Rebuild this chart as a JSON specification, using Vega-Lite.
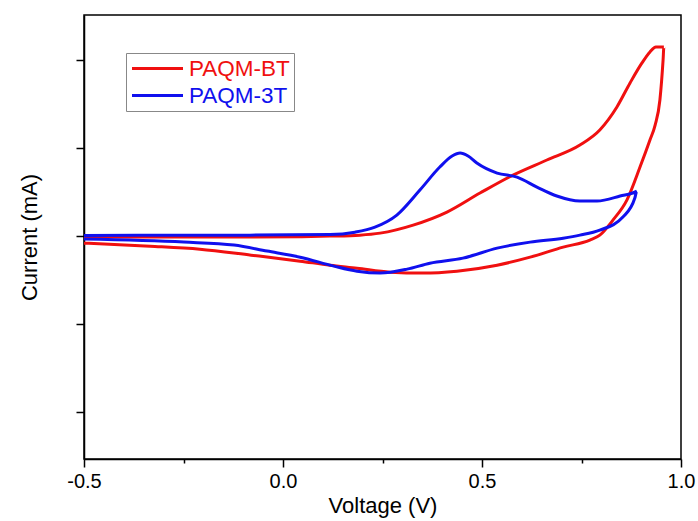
{
  "$schema": "https://vega.github.io/schema/vega-lite/v6.json",
  "width": 597,
  "height": 444,
  "autosize": {"type": "none"},
  "padding": {"left": 84, "top": 15, "right": 17, "bottom": 62},
  "background": "white",
  "config": {
    "font": "Liberation Sans",
    "view": {"stroke": "#000", "strokeWidth": 1.5}
  },
  "data": {
    "values": [
      {"s": "PAQM-BT", "i": 1, "v": -0.5, "c": -0.011},
      {"s": "PAQM-BT", "i": 2, "v": -0.334, "c": -0.011},
      {"s": "PAQM-BT", "i": 3, "v": -0.209, "c": -0.011},
      {"s": "PAQM-BT", "i": 4, "v": -0.083, "c": -0.011},
      {"s": "PAQM-BT", "i": 5, "v": 0.043, "c": -0.006},
      {"s": "PAQM-BT", "i": 6, "v": 0.118, "c": 0.0},
      {"s": "PAQM-BT", "i": 7, "v": 0.193, "c": 0.011},
      {"s": "PAQM-BT", "i": 8, "v": 0.244, "c": 0.034},
      {"s": "PAQM-BT", "i": 9, "v": 0.327, "c": 0.125},
      {"s": "PAQM-BT", "i": 10, "v": 0.412, "c": 0.273},
      {"s": "PAQM-BT", "i": 11, "v": 0.495, "c": 0.489},
      {"s": "PAQM-BT", "i": 12, "v": 0.578, "c": 0.693},
      {"s": "PAQM-BT", "i": 13, "v": 0.663, "c": 0.864},
      {"s": "PAQM-BT", "i": 14, "v": 0.746, "c": 1.034},
      {"s": "PAQM-BT", "i": 15, "v": 0.796, "c": 1.205},
      {"s": "PAQM-BT", "i": 16, "v": 0.839, "c": 1.466},
      {"s": "PAQM-BT", "i": 17, "v": 0.872, "c": 1.739},
      {"s": "PAQM-BT", "i": 18, "v": 0.902, "c": 1.966},
      {"s": "PAQM-BT", "i": 19, "v": 0.922, "c": 2.091},
      {"s": "PAQM-BT", "i": 20, "v": 0.937, "c": 2.148},
      {"s": "PAQM-BT", "i": 21, "v": 0.957, "c": 2.148},
      {"s": "PAQM-BT", "i": 22, "v": 0.955, "c": 2.0},
      {"s": "PAQM-BT", "i": 23, "v": 0.947, "c": 1.545},
      {"s": "PAQM-BT", "i": 24, "v": 0.935, "c": 1.261},
      {"s": "PAQM-BT", "i": 25, "v": 0.922, "c": 1.091},
      {"s": "PAQM-BT", "i": 26, "v": 0.897, "c": 0.784},
      {"s": "PAQM-BT", "i": 27, "v": 0.864, "c": 0.409},
      {"s": "PAQM-BT", "i": 28, "v": 0.829, "c": 0.182},
      {"s": "PAQM-BT", "i": 29, "v": 0.796, "c": 0.011},
      {"s": "PAQM-BT", "i": 30, "v": 0.771, "c": -0.045},
      {"s": "PAQM-BT", "i": 31, "v": 0.704, "c": -0.125},
      {"s": "PAQM-BT", "i": 32, "v": 0.621, "c": -0.239},
      {"s": "PAQM-BT", "i": 33, "v": 0.538, "c": -0.33},
      {"s": "PAQM-BT", "i": 34, "v": 0.437, "c": -0.398},
      {"s": "PAQM-BT", "i": 35, "v": 0.352, "c": -0.42},
      {"s": "PAQM-BT", "i": 36, "v": 0.269, "c": -0.409},
      {"s": "PAQM-BT", "i": 37, "v": 0.186, "c": -0.364},
      {"s": "PAQM-BT", "i": 38, "v": 0.118, "c": -0.33},
      {"s": "PAQM-BT", "i": 39, "v": 0.043, "c": -0.284},
      {"s": "PAQM-BT", "i": 40, "v": -0.08, "c": -0.216},
      {"s": "PAQM-BT", "i": 41, "v": -0.209, "c": -0.148},
      {"s": "PAQM-BT", "i": 42, "v": -0.334, "c": -0.114},
      {"s": "PAQM-BT", "i": 43, "v": -0.5, "c": -0.08},
      {"s": "PAQM-3T", "i": 1, "v": -0.5, "c": 0.006},
      {"s": "PAQM-3T", "i": 2, "v": -0.334, "c": 0.011},
      {"s": "PAQM-3T", "i": 3, "v": -0.083, "c": 0.011},
      {"s": "PAQM-3T", "i": 4, "v": 0.118, "c": 0.017},
      {"s": "PAQM-3T", "i": 5, "v": 0.181, "c": 0.045},
      {"s": "PAQM-3T", "i": 6, "v": 0.231, "c": 0.102},
      {"s": "PAQM-3T", "i": 7, "v": 0.286, "c": 0.239},
      {"s": "PAQM-3T", "i": 8, "v": 0.344, "c": 0.523},
      {"s": "PAQM-3T", "i": 9, "v": 0.394, "c": 0.784},
      {"s": "PAQM-3T", "i": 10, "v": 0.425, "c": 0.909},
      {"s": "PAQM-3T", "i": 11, "v": 0.445, "c": 0.943},
      {"s": "PAQM-3T", "i": 12, "v": 0.465, "c": 0.909},
      {"s": "PAQM-3T", "i": 13, "v": 0.487, "c": 0.83},
      {"s": "PAQM-3T", "i": 14, "v": 0.538, "c": 0.716},
      {"s": "PAQM-3T", "i": 15, "v": 0.588, "c": 0.67},
      {"s": "PAQM-3T", "i": 16, "v": 0.638, "c": 0.557},
      {"s": "PAQM-3T", "i": 17, "v": 0.688, "c": 0.455},
      {"s": "PAQM-3T", "i": 18, "v": 0.746, "c": 0.398},
      {"s": "PAQM-3T", "i": 19, "v": 0.789, "c": 0.398},
      {"s": "PAQM-3T", "i": 20, "v": 0.847, "c": 0.455},
      {"s": "PAQM-3T", "i": 21, "v": 0.889, "c": 0.511},
      {"s": "PAQM-3T", "i": 22, "v": 0.884, "c": 0.432},
      {"s": "PAQM-3T", "i": 23, "v": 0.854, "c": 0.216},
      {"s": "PAQM-3T", "i": 24, "v": 0.796, "c": 0.068},
      {"s": "PAQM-3T", "i": 25, "v": 0.746, "c": 0.011},
      {"s": "PAQM-3T", "i": 26, "v": 0.704, "c": -0.023},
      {"s": "PAQM-3T", "i": 27, "v": 0.621, "c": -0.068},
      {"s": "PAQM-3T", "i": 28, "v": 0.538, "c": -0.136},
      {"s": "PAQM-3T", "i": 29, "v": 0.452, "c": -0.25},
      {"s": "PAQM-3T", "i": 30, "v": 0.369, "c": -0.307},
      {"s": "PAQM-3T", "i": 31, "v": 0.312, "c": -0.375},
      {"s": "PAQM-3T", "i": 32, "v": 0.244, "c": -0.42},
      {"s": "PAQM-3T", "i": 33, "v": 0.186, "c": -0.398},
      {"s": "PAQM-3T", "i": 34, "v": 0.128, "c": -0.341},
      {"s": "PAQM-3T", "i": 35, "v": 0.043, "c": -0.239},
      {"s": "PAQM-3T", "i": 36, "v": -0.04, "c": -0.17},
      {"s": "PAQM-3T", "i": 37, "v": -0.123, "c": -0.102},
      {"s": "PAQM-3T", "i": 38, "v": -0.249, "c": -0.068},
      {"s": "PAQM-3T", "i": 39, "v": -0.5, "c": -0.034}
    ]
  },
  "mark": {"type": "line", "strokeWidth": 3, "interpolate": "monotone", "clip": true},
  "encoding": {
    "x": {
      "field": "v",
      "type": "quantitative",
      "scale": {"domain": [-0.5, 1.0], "nice": false, "zero": false},
      "axis": {
        "title": "Voltage (V)",
        "values": [-0.5, -0.25, 0, 0.25, 0.5, 0.75, 1.0],
        "labelExpr": "abs(datum.value * 2 - round(datum.value * 2)) > 0.01 ? '' : (datum.value < 0 ? '-' + format(-datum.value, '.1f') : format(datum.value, '.1f'))",
        "labelOverlap": false,
        "labelFlush": false,
        "labelFontSize": 20,
        "labelColor": "#000",
        "labelPadding": 4,
        "titleFontSize": 22,
        "titleFontWeight": "normal",
        "titleColor": "#000",
        "titlePadding": 4,
        "grid": false,
        "domainColor": "#000",
        "domainWidth": 1.5,
        "tickColor": "#000",
        "tickWidth": 1.5,
        "tickSize": {"condition": {"test": "abs(datum.value * 2 - round(datum.value * 2)) > 0.01", "value": 4}, "value": 8}
      }
    },
    "y": {
      "field": "c",
      "type": "quantitative",
      "scale": {"domain": [-2.53, 2.51], "nice": false, "zero": false},
      "axis": {
        "title": "Current (mA)",
        "values": [-2, -1, 0, 1, 2],
        "labels": false,
        "titleFontSize": 22,
        "titleFontWeight": "normal",
        "titleColor": "#000",
        "titlePadding": 34,
        "grid": false,
        "domainColor": "#000",
        "domainWidth": 1.5,
        "tickColor": "#000",
        "tickWidth": 1.5,
        "tickSize": 8
      }
    },
    "color": {
      "field": "s",
      "type": "nominal",
      "scale": {"domain": ["PAQM-BT", "PAQM-3T"], "range": ["#f01010", "#1010ee"]},
      "legend": {
        "title": null,
        "orient": "none",
        "legendX": 42,
        "legendY": 38,
        "symbolType": "M-2.55,0H2.55",
        "symbolSize": 400,
        "symbolStrokeWidth": 3,
        "symbolOffset": 16,
        "labelFontSize": 22.5,
        "labelOffset": 20,
        "rowPadding": 4,
        "padding": 4,
        "strokeColor": "#888",
        "fillColor": "white",
        "labelLimit": 300,
        "encode": {
          "labels": {"update": {"fill": {"scale": "color", "field": "value"}}}
        }
      }
    },
    "order": {"field": "i", "type": "quantitative"}
  }
}
